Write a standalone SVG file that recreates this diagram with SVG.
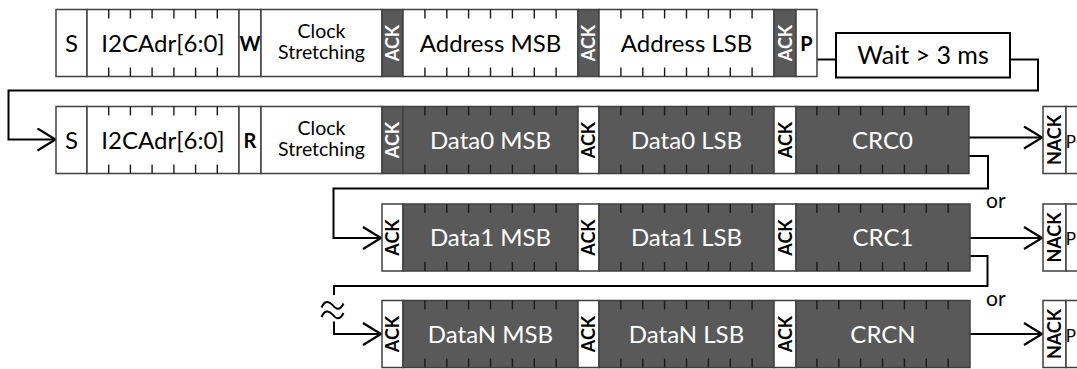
<svg xmlns="http://www.w3.org/2000/svg" xmlns:xlink="http://www.w3.org/1999/xlink" width="1077" height="369" viewBox="0 0 1077 369">
<style>
.c{stroke:#404040;stroke-width:1.5}
.w{fill:#fff}
.d{fill:#595959}
.tk{stroke:#1a1a1a;stroke-width:1.4;fill:none}
.t{font-family:Lato,"Open Sans",sans-serif;font-size:24px;text-anchor:middle;fill:#000}
.s{font-size:24px}
.cs{font-size:19.5px}
.tw{fill:#fff}
.b{font-family:Lato,"Open Sans",sans-serif;font-weight:bold;font-size:18px;text-anchor:middle;fill:#000}
.bw{fill:#fff}
.big{font-size:20px}
.conn{stroke:#000;stroke-width:2;fill:none}
.or{font-family:Lato,"Open Sans",sans-serif;font-size:21px;fill:#000}
</style>
<defs>
<path id="t8" d="M21.9 0v9M43.8 0v9M65.6 0v9M87.5 0v9M109.4 0v9M131.3 0v9M153.1 0v9M21.9 67v-9M43.8 67v-9M65.6 67v-9M87.5 67v-9M109.4 67v-9M131.3 67v-9M153.1 67v-9"/>
<path id="t7" d="M21.7 0v9M43.4 0v9M65.1 0v9M86.9 0v9M108.6 0v9M130.3 0v9M21.7 67v-9M43.4 67v-9M65.1 67v-9M86.9 67v-9M108.6 67v-9M130.3 67v-9"/>
<marker id="arr" markerUnits="userSpaceOnUse" markerWidth="24" markerHeight="28" refX="19" refY="12" orient="auto" viewBox="0 0 24 28">
<path d="M1 1 L19 12 L1 23" fill="none" stroke="#000" stroke-width="2.2"/>
</marker>
</defs>
<rect width="1077" height="369" fill="#fff"/>

<g id="connectors">
<path class="conn" d="M817 59.5H836"/>
<path class="conn" d="M1010 59.5H1038V90.5H8.5V139.5H55.5" marker-end="url(#arr)"/>
<path class="conn" d="M969 137.5H1042" marker-end="url(#arr)"/>
<path class="conn" d="M969 156H988V188.5H333.5V238H381" marker-end="url(#arr)"/>
<path class="conn" d="M970 238H1042" marker-end="url(#arr)"/>
<path class="conn" d="M970 256H987.5V286H334V295"/>
<path class="conn" d="M334 321.5V334H381" marker-end="url(#arr)"/>
<path class="conn" d="M970 334H1042" marker-end="url(#arr)"/>
<path d="M321.5 307.5C324.5 300.5 329 300.5 332.5 305S340 311 343.5 303.5M321.5 317C324.5 310 329 310 332.5 314.5S340 320.5 343.5 313" fill="none" stroke="#000" stroke-width="2"/>
<text class="or" x="986" y="208">or</text>
<text class="or" x="986" y="306">or</text>
</g>

<g id="row1" transform="translate(0,9.5)">
<g id="r1-s"><rect class="c w" x="56" y="0" width="31" height="67"/><text class="t s" x="71.5" y="42">S</text></g>
<g id="r1-adr"><rect class="c w" x="87" y="0" width="152" height="67"/><use href="#t7" x="87" class="tk"/><text class="t s" x="163" y="42">I2CAdr[6:0]</text></g>
<g id="r1-w"><rect class="c w" x="239" y="0" width="22" height="67"/><text class="b big" x="250" y="41">W</text></g>
<g id="r1-clk"><rect class="c w" x="261" y="0" width="121" height="67"/><text class="t cs" x="321.5" y="28">Clock</text><text class="t cs" x="321.5" y="49">Stretching</text></g>
<g id="r1-ack1"><rect class="c d" x="382" y="0" width="21" height="67"/><text class="b bw" transform="translate(399,33.5) rotate(-90)">ACK</text></g>
<g id="r1-amsb"><rect class="c w" x="403" y="0" width="175" height="67"/><use href="#t8" x="403" class="tk"/><text class="t" x="490.5" y="42">Address MSB</text></g>
<g id="r1-ack2"><rect class="c d" x="578" y="0" width="21" height="67"/><text class="b bw" transform="translate(595,33.5) rotate(-90)">ACK</text></g>
<g id="r1-alsb"><rect class="c w" x="599" y="0" width="175" height="67"/><use href="#t8" x="599" class="tk"/><text class="t" x="686.5" y="42">Address LSB</text></g>
<g id="r1-ack3"><rect class="c d" x="774" y="0" width="22" height="67"/><text class="b bw" transform="translate(791.5,33.5) rotate(-90)">ACK</text></g>
<g id="r1-p"><rect class="c w" x="796" y="0" width="21" height="67"/><text class="b big" x="806.5" y="41">P</text></g>
</g>

<g id="wait"><rect x="836" y="33" width="174" height="44.5" fill="#fff" stroke="#000" stroke-width="2"/><text class="t" x="923" y="64" style="font-size:25px">Wait &gt; 3 ms</text></g>

<g id="row2" transform="translate(0,106.5)">
<g id="r2-s"><rect class="c w" x="56" y="0" width="31" height="67"/><text class="t s" x="71.5" y="42">S</text></g>
<g id="r2-adr"><rect class="c w" x="87" y="0" width="152" height="67"/><use href="#t7" x="87" class="tk"/><text class="t s" x="163" y="42">I2CAdr[6:0]</text></g>
<g id="r2-r"><rect class="c w" x="239" y="0" width="22" height="67"/><text class="b big" x="250" y="41">R</text></g>
<g id="r2-clk"><rect class="c w" x="261" y="0" width="121" height="67"/><text class="t cs" x="321.5" y="28">Clock</text><text class="t cs" x="321.5" y="49">Stretching</text></g>
<g id="r2-ack1"><rect class="c d" x="382" y="0" width="21" height="67"/><text class="b bw" transform="translate(399,33.5) rotate(-90)">ACK</text></g>
<g id="r2-dmsb"><rect class="c d" x="403" y="0" width="175" height="67"/><use href="#t8" x="403" class="tk"/><text class="t tw" x="490.5" y="42">Data0 MSB</text></g>
<g id="r2-ack2"><rect class="c w" x="578" y="0" width="21" height="67"/><text class="b" transform="translate(595,33.5) rotate(-90)">ACK</text></g>
<g id="r2-dlsb"><rect class="c d" x="599" y="0" width="175" height="67"/><use href="#t8" x="599" class="tk"/><text class="t tw" x="686.5" y="42">Data0 LSB</text></g>
<g id="r2-ack3"><rect class="c w" x="774" y="0" width="22" height="67"/><text class="b" transform="translate(791.5,33.5) rotate(-90)">ACK</text></g>
<g id="r2-crc"><rect class="c d" x="796" y="0" width="173" height="67"/><use href="#t8" x="795" class="tk"/><text class="t tw" x="882.5" y="42">CRC0</text></g>
<g id="r2-nack"><rect class="c w" x="1043" y="0" width="23" height="67"/><text class="b" transform="translate(1061,33.5) rotate(-90)">NACK</text></g>
<g id="r2-p"><rect class="c w" x="1066" y="0" width="20" height="67"/><text class="t" x="1076" y="41" style="font-size:17px;text-anchor:end">P</text></g>
</g>

<g id="row3" transform="translate(0,204)">
<g id="r3-ack1"><rect class="c w" x="382" y="0" width="21" height="67"/><text class="b" transform="translate(399,33.5) rotate(-90)">ACK</text></g>
<g id="r3-dmsb"><rect class="c d" x="403" y="0" width="175" height="67"/><use href="#t8" x="403" class="tk"/><text class="t tw" x="490.5" y="42">Data1 MSB</text></g>
<g id="r3-ack2"><rect class="c w" x="578" y="0" width="21" height="67"/><text class="b" transform="translate(595,33.5) rotate(-90)">ACK</text></g>
<g id="r3-dlsb"><rect class="c d" x="599" y="0" width="175" height="67"/><use href="#t8" x="599" class="tk"/><text class="t tw" x="686.5" y="42">Data1 LSB</text></g>
<g id="r3-ack3"><rect class="c w" x="774" y="0" width="22" height="67"/><text class="b" transform="translate(791.5,33.5) rotate(-90)">ACK</text></g>
<g id="r3-crc"><rect class="c d" x="796" y="0" width="174" height="67"/><use href="#t8" x="795" class="tk"/><text class="t tw" x="883" y="42">CRC1</text></g>
<g id="r3-nack"><rect class="c w" x="1043" y="0" width="23" height="67"/><text class="b" transform="translate(1061,33.5) rotate(-90)">NACK</text></g>
<g id="r3-p"><rect class="c w" x="1066" y="0" width="20" height="67"/><text class="t" x="1076" y="41" style="font-size:17px;text-anchor:end">P</text></g>
</g>

<g id="row4" transform="translate(0,300.5)">
<g id="r4-ack1"><rect class="c w" x="382" y="0" width="21" height="67"/><text class="b" transform="translate(399,33.5) rotate(-90)">ACK</text></g>
<g id="r4-dmsb"><rect class="c d" x="403" y="0" width="175" height="67"/><use href="#t8" x="403" class="tk"/><text class="t tw" x="490.5" y="42">DataN MSB</text></g>
<g id="r4-ack2"><rect class="c w" x="578" y="0" width="21" height="67"/><text class="b" transform="translate(595,33.5) rotate(-90)">ACK</text></g>
<g id="r4-dlsb"><rect class="c d" x="599" y="0" width="175" height="67"/><use href="#t8" x="599" class="tk"/><text class="t tw" x="686.5" y="42">DataN LSB</text></g>
<g id="r4-ack3"><rect class="c w" x="774" y="0" width="22" height="67"/><text class="b" transform="translate(791.5,33.5) rotate(-90)">ACK</text></g>
<g id="r4-crc"><rect class="c d" x="796" y="0" width="174" height="67"/><use href="#t8" x="795" class="tk"/><text class="t tw" x="883" y="42">CRCN</text></g>
<g id="r4-nack"><rect class="c w" x="1043" y="0" width="23" height="67"/><text class="b" transform="translate(1061,33.5) rotate(-90)">NACK</text></g>
<g id="r4-p"><rect class="c w" x="1066" y="0" width="20" height="67"/><text class="t" x="1076" y="41" style="font-size:17px;text-anchor:end">P</text></g>
</g>
</svg>
